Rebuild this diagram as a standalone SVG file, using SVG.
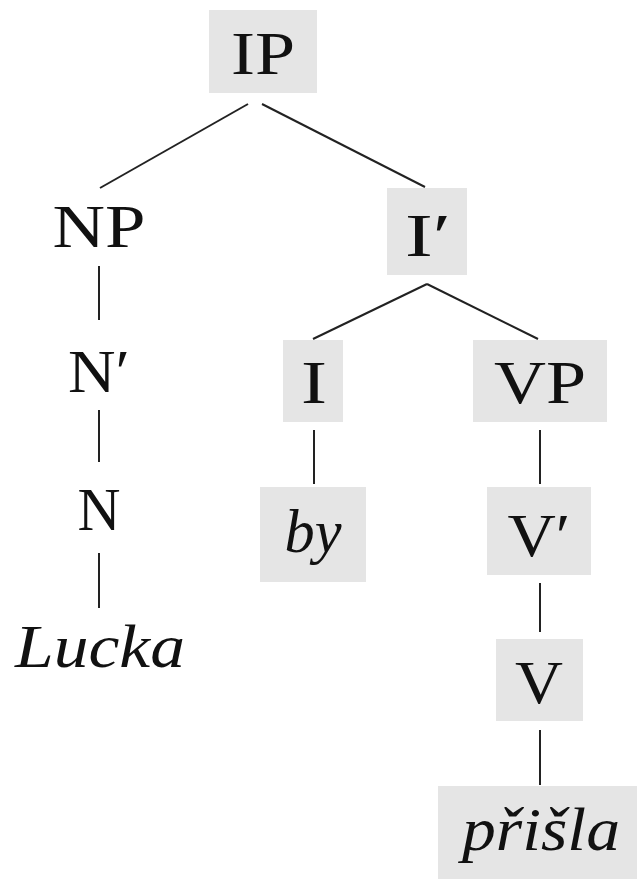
<svg xmlns="http://www.w3.org/2000/svg" width="637" height="879" viewBox="0 0 637 879">
<style>
.box{fill:#e5e5e5}
.t{font-family:'Liberation Serif',serif;font-size:62px;font-weight:normal;fill:#111;text-anchor:middle}
.i{font-style:italic}
.e{stroke:#222;stroke-width:2;fill:none}
</style>
<rect width="637" height="879" fill="#fff"/>
<g id="edges">
<line class="e" x1="248" y1="104" x2="100" y2="188"/>
<line class="e" x1="262" y1="104" x2="425" y2="187"/>
<line class="e" x1="99" y1="266" x2="99" y2="320"/>
<line class="e" x1="99" y1="410" x2="99" y2="462"/>
<line class="e" x1="99" y1="553" x2="99" y2="608"/>
<line class="e" x1="427" y1="284" x2="313" y2="339"/>
<line class="e" x1="427" y1="284" x2="538" y2="339"/>
<line class="e" x1="314" y1="430" x2="314" y2="484"/>
<line class="e" x1="540" y1="430" x2="540" y2="484"/>
<line class="e" x1="540" y1="583" x2="540" y2="632"/>
<line class="e" x1="540" y1="730" x2="540" y2="785"/>
</g>
<g id="IP"><rect class="box" x="209" y="10" width="108" height="83"/><text class="t" x="263" y="74" textLength="64" lengthAdjust="spacingAndGlyphs">IP</text></g>
<g id="NP"><text class="t" x="99" y="247" textLength="93" lengthAdjust="spacingAndGlyphs">NP</text></g>
<g id="Nbar"><text class="t" x="99" y="392" textLength="62" lengthAdjust="spacingAndGlyphs">N′</text></g>
<g id="N"><text class="t" x="99" y="530" textLength="43" lengthAdjust="spacingAndGlyphs">N</text></g>
<g id="Lucka"><text class="t i" x="100" y="667" textLength="170" lengthAdjust="spacingAndGlyphs">Lucka</text></g>
<g id="Ibar"><rect class="box" x="387" y="188" width="80" height="87"/><text class="t" x="428" y="256" textLength="46" lengthAdjust="spacingAndGlyphs">I′</text></g>
<g id="I"><rect class="box" x="283" y="340" width="60" height="82"/><text class="t" x="314" y="403" textLength="26" lengthAdjust="spacingAndGlyphs">I</text></g>
<g id="VP"><rect class="box" x="473" y="340" width="134" height="82"/><text class="t" x="540" y="403" textLength="92" lengthAdjust="spacingAndGlyphs">VP</text></g>
<g id="by"><rect class="box" x="260" y="487" width="106" height="95"/><text class="t i" x="313" y="552" textLength="57" lengthAdjust="spacingAndGlyphs">by</text></g>
<g id="Vbar"><rect class="box" x="487" y="487" width="104" height="88"/><text class="t" x="539" y="556" textLength="63" lengthAdjust="spacingAndGlyphs">V′</text></g>
<g id="V"><rect class="box" x="496" y="639" width="87" height="82"/><text class="t" x="539" y="703" textLength="48" lengthAdjust="spacingAndGlyphs">V</text></g>
<g id="prisla"><rect class="box" x="438" y="786" width="199" height="93"/><text class="t i" x="541" y="850" textLength="158" lengthAdjust="spacingAndGlyphs">přišla</text></g>
</svg>
